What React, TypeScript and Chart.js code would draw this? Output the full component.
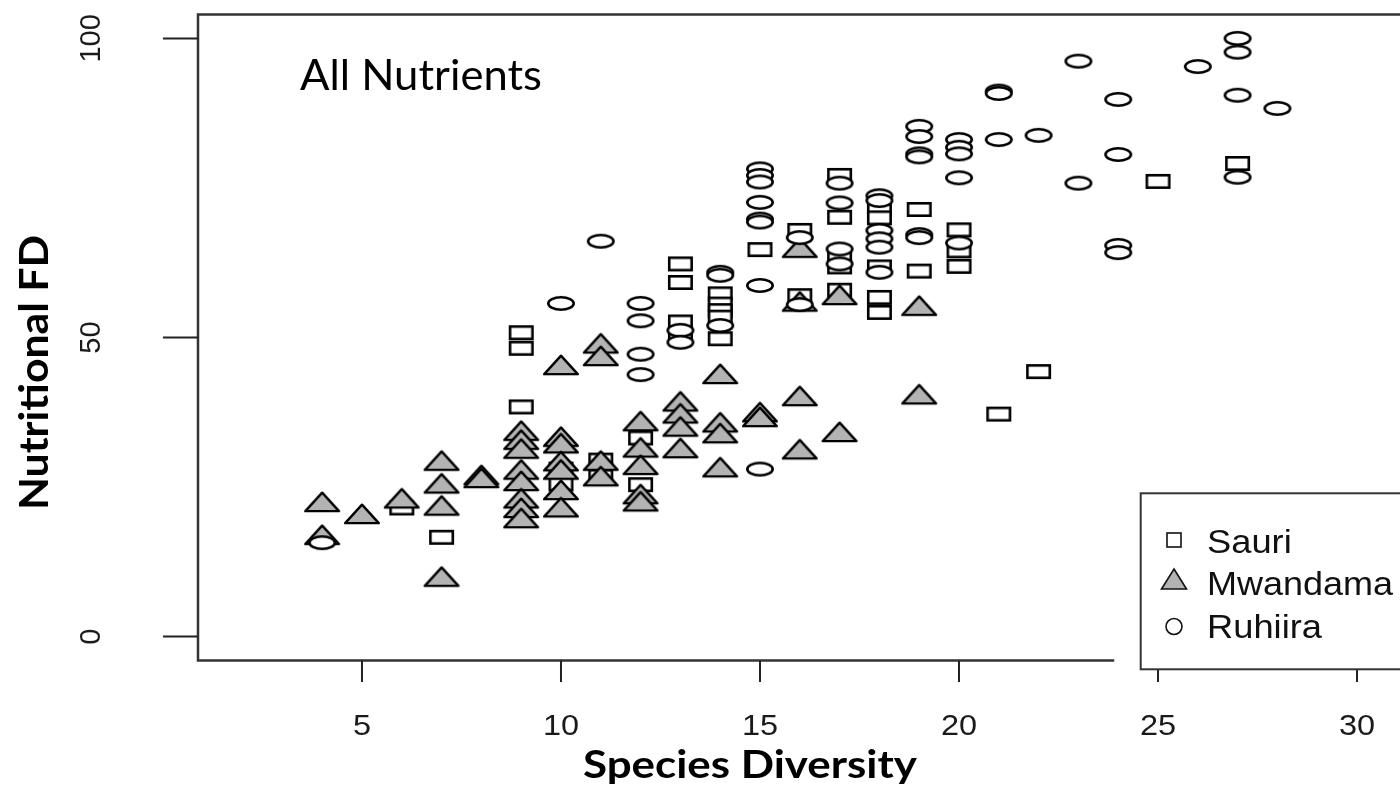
import React, { useEffect, useRef } from "react";
import { Chart, registerables } from "chart.js";

Chart.register(...registerables);

// ---------- data ----------
const sauriSpecies = [6, 7, 9, 9, 9, 10, 10, 11, 11, 12, 12, 13, 13, 13, 13, 14, 14, 14, 14, 14, 15, 16, 16, 17, 17, 17, 17, 17, 18, 18, 18, 18, 18, 19, 19, 20, 20, 20, 21, 22, 25, 27];
const sauriFD = [21.5, 16.6, 50.8, 48.2, 38.4, 28, 25.5, 29.5, 26.8, 33.2, 25.4, 62.3, 59.2, 52.6, 50.2, 57.3, 55.6, 54.5, 53.4, 49.8, 64.7, 67.9, 57, 77.1, 70.1, 63.4, 61.8, 57.9, 71.5, 70, 61.8, 56.7, 54.2, 71.4, 61.1, 68, 64.5, 61.9, 37.2, 44.3, 76.1, 79.1];

const mwandamaSpecies = [4, 4, 5, 6, 7, 7, 7, 7, 8, 8, 9, 9, 9, 9, 9, 9, 9, 9, 10, 10, 10, 10, 10, 10, 10, 11, 11, 11, 11, 12, 12, 12, 12, 12, 13, 13, 13, 13, 14, 14, 14, 14, 15, 15, 16, 16, 16, 16, 17, 17, 19, 19];
const mwandamaFD = [22, 16.5, 20, 22.6, 28.9, 25.1, 21.4, 9.5, 26.5, 26, 33.9, 32.4, 30.9, 27.4, 25.5, 22.6, 21, 19.3, 44.9, 32.9, 31.8, 28.8, 27.4, 24, 21.1, 48.5, 46.4, 28.9, 26.3, 35.5, 31.1, 28.2, 23.3, 22.1, 38.8, 36.8, 34.6, 31.0, 43.4, 35.3, 33.5, 27.8, 37, 36.2, 64.5, 55.5, 39.7, 30.8, 56.6, 33.7, 54.8, 40];

const ruhiiraSpecies = [4, 10, 11, 12, 12, 12, 12, 13, 13, 14, 14, 14, 15, 15, 15, 15, 15, 15, 15, 15, 16, 16, 17, 17, 17, 17, 18, 18, 18, 18, 18, 18, 19, 19, 19, 19, 19, 19, 20, 20, 20, 20, 20, 21, 21, 21, 22, 23, 23, 24, 24, 24, 24, 26, 27, 27, 27, 27, 28];
const ruhiiraFD = [15.7, 55.7, 66.1, 55.7, 52.8, 47.2, 43.8, 51.2, 49.2, 60.9, 60.4, 52, 78.2, 77.1, 76, 72.6, 69.8, 69.3, 58.7, 28, 66.7, 55.5, 75.8, 72.5, 64.8, 62.3, 73.7, 72.9, 67.9, 66.5, 65.1, 60.9, 85.3, 83.6, 80.7, 80.2, 67.2, 66.7, 83.1, 81.8, 80.7, 76.7, 65.8, 91.2, 90.8, 83.1, 83.8, 96.2, 75.8, 89.8, 80.6, 65.4, 64.2, 95.3, 100, 97.7, 90.5, 76.8, 88.3];

const xTicks = [5, 10, 15, 20, 25, 30];
const yTicks = [0, 50, 100];
const legendLabels = ["Sauri", "Mwandama", "Ruhiira"];

const X_MIN = 0.88;
const X_MAX = 31.12;
const Y_MIN = -4;
const Y_MAX = 104;

// ---------- marker images ----------
function makeSquare(w: number, h: number, lw: number) {
  const c = document.createElement("canvas");
  c.width = w + 2;
  c.height = h + 2;
  const g = c.getContext("2d")!;
  g.fillStyle = "#fff";
  g.strokeStyle = "#000";
  g.lineWidth = lw;
  g.fillRect(1 + lw / 2, 1 + lw / 2, w - lw, h - lw);
  g.strokeRect(1 + lw / 2, 1 + lw / 2, w - lw, h - lw);
  return c;
}
function makeEllipse(w: number, h: number, lw: number) {
  const c = document.createElement("canvas");
  c.width = w + 2;
  c.height = h + 2;
  const g = c.getContext("2d")!;
  g.fillStyle = "#fff";
  g.strokeStyle = "#000";
  g.lineWidth = lw;
  g.beginPath();
  g.ellipse(c.width / 2, c.height / 2, (w - lw) / 2, (h - lw) / 2, 0, 0, Math.PI * 2);
  g.fill();
  g.stroke();
  return c;
}
function makeTriangle(w: number, h: number, lw: number) {
  // centroid placed at image centre
  const pad = 2;
  const H = Math.ceil((h * 2) / 3) * 2 + pad * 2;
  const c = document.createElement("canvas");
  c.width = w + 4;
  c.height = H;
  const g = c.getContext("2d")!;
  const cy = H / 2;
  const top = cy - (h * 2) / 3;
  const base = cy + h / 3;
  g.fillStyle = "#b3b3b3";
  g.strokeStyle = "#000";
  g.lineWidth = lw;
  g.lineJoin = "round";
  g.beginPath();
  g.moveTo(c.width / 2, top);
  g.lineTo(c.width / 2 + (w - lw) / 2, base);
  g.lineTo(c.width / 2 - (w - lw) / 2, base);
  g.closePath();
  g.fill();
  g.stroke();
  return c;
}

function drawText(
  ctx: CanvasRenderingContext2D,
  text: string,
  x: number,
  y: number,
  font: string,
  opts: { align?: CanvasTextAlign; baseline?: CanvasTextBaseline; sx?: number; fitW?: number; rot?: number; color?: string }
) {
  ctx.save();
  ctx.font = font;
  ctx.fillStyle = opts.color || "#000";
  ctx.textAlign = opts.align || "left";
  ctx.textBaseline = opts.baseline || "alphabetic";
  let sx = opts.sx || 1;
  if (opts.fitW) sx = opts.fitW / ctx.measureText(text).width;
  ctx.translate(x, y);
  if (opts.rot) ctx.rotate(opts.rot);
  ctx.scale(sx, 1);
  ctx.fillText(text, 0, 0);
  ctx.restore();
}

const decoPlugin = {
  id: "deco",
  afterDatasetsDraw(chart: any) {
    const ctx: CanvasRenderingContext2D = chart.ctx;
    const a = chart.chartArea;
    const xs = chart.scales.x;
    const ys = chart.scales.y;
    ctx.save();
    // frame
    ctx.strokeStyle = "#333";
    ctx.lineWidth = 2.5;
    ctx.lineCap = "square";
    ctx.beginPath();
    ctx.moveTo(a.left, a.top);
    ctx.lineTo(a.right, a.top);
    ctx.moveTo(a.left, a.top);
    ctx.lineTo(a.left, a.bottom);
    ctx.moveTo(a.left, a.bottom);
    ctx.lineTo(1113, a.bottom);
    ctx.moveTo(a.right, a.top);
    ctx.lineTo(a.right, a.bottom);
    ctx.stroke();

    // ticks
    ctx.strokeStyle = "#222";
    ctx.lineWidth = 2;
    ctx.lineCap = "butt";
    ctx.beginPath();
    for (const t of yTicks) {
      const py = ys.getPixelForValue(t);
      ctx.moveTo(163, py);
      ctx.lineTo(a.left, py);
    }
    for (const t of xTicks) {
      const px = xs.getPixelForValue(t);
      ctx.moveTo(px, a.bottom);
      ctx.lineTo(px, 682);
    }
    ctx.stroke();

    // tick labels
    for (const t of yTicks) {
      const py = ys.getPixelForValue(t);
      drawText(ctx, String(t), 92, py, "29px 'Liberation Sans', Arial, sans-serif", {
        align: "center",
        baseline: "middle",
        rot: -Math.PI / 2,
        color: "#1a1a1a",
      });
    }
    for (const t of xTicks) {
      const px = xs.getPixelForValue(t);
      drawText(ctx, String(t), px, 735, "29px 'Liberation Sans', Arial, sans-serif", {
        align: "center",
        baseline: "alphabetic",
        sx: 1.12,
        color: "#1a1a1a",
      });
    }

    // titles
    drawText(ctx, "All Nutrients", 300, 90, "42px Lato, 'Open Sans', sans-serif", { fitW: 242 });
    drawText(ctx, "Species Diversity", 583, 778, "bold 39px Lato, 'Open Sans', sans-serif", { fitW: 334 });
    drawText(ctx, "Nutritional FD", 48, 510, "bold 40px Lato, 'Open Sans', sans-serif", {
      rot: -Math.PI / 2,
      fitW: 275,
    });

    // legend box
    const lx = 1140.7;
    const ltop = 493.3;
    const lbottom = 669.3;
    ctx.fillStyle = "#fff";
    ctx.fillRect(lx, ltop, 1410 - lx, lbottom - ltop);
    ctx.strokeStyle = "#333";
    ctx.lineWidth = 2;
    ctx.strokeRect(lx, ltop, 1420 - lx, lbottom - ltop);

    const symX = 1174;
    const rowsY = [540, 582, 626.5];
    const baseY = [552.7, 595, 637.5];
    ctx.lineWidth = 1.6;
    ctx.strokeStyle = "#111";
    ctx.strokeRect(symX - 7, rowsY[0] - 7, 14, 14);
    ctx.beginPath();
    ctx.moveTo(symX, rowsY[1] - 13);
    ctx.lineTo(symX + 12.5, rowsY[1] + 7);
    ctx.lineTo(symX - 12.5, rowsY[1] + 7);
    ctx.closePath();
    ctx.fillStyle = "#b3b3b3";
    ctx.fill();
    ctx.stroke();
    ctx.beginPath();
    ctx.arc(symX, rowsY[2], 8, 0, Math.PI * 2);
    ctx.stroke();

    legendLabels.forEach((lab, i) => {
      drawText(ctx, lab, 1207, baseY[i], "33px 'Liberation Sans', Arial, sans-serif", {
        fitW: i === 1 ? 186 : undefined,
        sx: 1.1,
        color: "#111",
      });
    });
    ctx.restore();
  },
};

function toPoints(xs: number[], ys: number[]) {
  return xs.map((x, i) => ({ x, y: ys[i] }));
}

export default function App() {
  const ref = useRef<HTMLCanvasElement | null>(null);
  useEffect(() => {
    if (!ref.current) return;
    const sq = makeSquare(25, 15, 2.6);
    const tri = makeTriangle(36, 18.5, 2.4);
    const el = makeEllipse(28, 15, 2.6);
    const chart = new Chart(ref.current, {
      type: "scatter",
      data: {
        datasets: [
          { label: legendLabels[0], data: toPoints(sauriSpecies, sauriFD), pointStyle: sq as any, pointRadius: 6, order: 3 },
          { label: legendLabels[1], data: toPoints(mwandamaSpecies, mwandamaFD), pointStyle: tri as any, pointRadius: 6, order: 2 },
          { label: legendLabels[2], data: toPoints(ruhiiraSpecies, ruhiiraFD), pointStyle: el as any, pointRadius: 6, order: 1 },
        ],
      },
      options: {
        responsive: false,
        animation: false,
        devicePixelRatio: 1,
        layout: { padding: { left: 198, top: 14.5, right: 8.4, bottom: 129.5 } },
        scales: {
          x: { type: "linear", min: X_MIN, max: X_MAX, display: false },
          y: { type: "linear", min: Y_MIN, max: Y_MAX, display: false },
        },
        plugins: { legend: { display: false }, tooltip: { enabled: false } },
        events: [],
      },
      plugins: [decoPlugin],
    });
    return () => chart.destroy();
  }, []);
  return (
    <div style={{ position: "fixed", left: 0, top: 0, width: 1400, height: 790, overflow: "hidden", background: "#fff" }}>
      <canvas ref={ref} width={1410} height={790} style={{ display: "block", width: 1410, height: 790 }} />
    </div>
  );
}
